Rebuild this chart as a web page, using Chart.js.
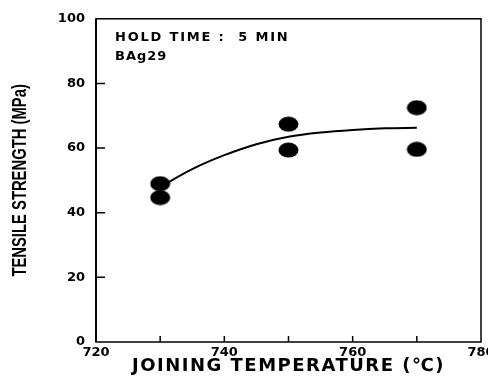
<!DOCTYPE html>
<html>
<head>
<meta charset="utf-8">
<script src="https://cdn.jsdelivr.net/npm/chart.js@4"></script>
<style>
  html, body { margin: 0; padding: 0; background: #fff; overflow: hidden; }
  #wrap { width: 500px; height: 385px; }
</style>
</head>
<body>
<div id="wrap"><canvas id="chart" width="500" height="385"></canvas></div>
<script>
// measured specimens
const tempC = [730, 730, 750, 750, 770, 770];
const strength = [49, 44.7, 67.4, 59.4, 72.5, 59.6];

// fitted trend line as drawn in the figure
const curveTemp = [730, 735, 740, 745, 750, 755, 760, 765, 770];
const curveStrength = [48, 53.5, 57.8, 61.2, 63.5, 64.8, 65.6, 66.1, 66.3];

const xTicks = [720, 740, 760, 780];
const xMarks = [730, 740, 750, 760, 770];
const yTicks = [0, 20, 40, 60, 80, 100];
const xTitle = 'JOINING TEMPERATURE (℃)';
const yTitle = 'TENSILE STRENGTH (MPa)';
const notes = ['HOLD TIME :  5 MIN', 'BAg29'];

const WIDE = '"DejaVu Sans", Verdana, sans-serif';
const PLAIN = '"Liberation Sans", Arial, sans-serif';

// flattened black dot like the scanned markers
const dot = document.createElement('canvas');
dot.width = 21; dot.height = 16;
(function () {
  const c = dot.getContext('2d');
  c.fillStyle = '#000';
  c.beginPath();
  c.ellipse(10.5, 8, 10, 7.5, 0, 0, Math.PI * 2);
  c.fill();
})();

const frame = {
  id: 'frame',
  afterDraw(chart) {
    const ctx = chart.ctx;
    const a = chart.chartArea;
    const xs = chart.scales.x, ys = chart.scales.y;
    ctx.save();
    ctx.strokeStyle = '#000';
    ctx.lineWidth = 1.5;
    ctx.strokeRect(a.left, a.top, a.right - a.left, a.bottom - a.top);
    ctx.lineWidth = 2;
    ctx.beginPath();
    ctx.moveTo(a.left, a.top); ctx.lineTo(a.left, a.bottom);
    ctx.stroke();
    // inward tick marks
    ctx.lineWidth = 1.5;
    ctx.beginPath();
    xMarks.forEach(function (v) {
      const px = xs.getPixelForValue(v);
      ctx.moveTo(px, a.bottom); ctx.lineTo(px, a.bottom - 6);
    });
    yTicks.slice(1, -1).forEach(function (v) {
      const py = ys.getPixelForValue(v);
      ctx.moveTo(a.left, py); ctx.lineTo(a.left + 9, py);
    });
    ctx.stroke();

    ctx.fillStyle = '#000';
    ctx.textBaseline = 'middle';

    // axis titles: wide-tracked x title, condensed y title
    ctx.save();
    ctx.textAlign = 'center';
    ctx.letterSpacing = '1.5px';
    ctx.font = 'bold 18px ' + WIDE;
    ctx.fillText(xTitle, (a.left + a.right) / 2, 366);
    ctx.restore();

    ctx.save();
    ctx.translate(20, (a.top + a.bottom) / 2);
    ctx.rotate(-Math.PI / 2);
    ctx.scale(0.74, 1);
    ctx.textAlign = 'center';
    ctx.font = 'bold 20px ' + PLAIN;
    ctx.fillText(yTitle, 0, 0);
    ctx.restore();

    // annotations
    ctx.letterSpacing = '1.8px';
    ctx.font = 'bold 13px ' + WIDE;
    ctx.fillText(notes[0], a.left + 19, a.top + 19);
    ctx.letterSpacing = '1px';
    ctx.fillText(notes[1], a.left + 19, a.top + 38);
    ctx.restore();
  }
};

new Chart(document.getElementById('chart'), {
  type: 'scatter',
  data: {
    datasets: [
      {
        label: 'Tensile strength',
        data: tempC.map(function (t, i) { return { x: t, y: strength[i] }; }),
        pointStyle: dot,
        backgroundColor: '#000',
        borderColor: '#000',
      },
      {
        label: 'Trend',
        type: 'line',
        data: curveTemp.map(function (t, i) { return { x: t, y: curveStrength[i] }; }),
        borderColor: '#000',
        borderWidth: 2,
        pointRadius: 0,
        cubicInterpolationMode: 'monotone',
        fill: false,
      },
    ],
  },
  options: {
    responsive: false,
    animation: false,
    layout: { padding: { top: 15, right: 19, bottom: 0, left: 0 } },
    plugins: { legend: { display: false }, tooltip: { enabled: false } },
    scales: {
      x: {
        type: 'linear',
        min: 720, max: 780,
        afterBuildTicks: function (s) { s.ticks = xTicks.map(function (v) { return { value: v }; }); },
        afterFit: function (s) { s.height = 43; },
        grid: { display: false, drawTicks: false },
        border: { display: false },
        ticks: { color: '#000', padding: 3, maxRotation: 0, autoSkip: false, font: { family: WIDE, size: 13, weight: 'bold' } },
        title: { display: false },
      },
      y: {
        min: 0, max: 100,
        afterBuildTicks: function (s) { s.ticks = yTicks.map(function (v) { return { value: v }; }); },
        afterFit: function (s) { s.width = 96; },
        grid: { display: false, drawTicks: false },
        border: { display: false },
        ticks: { color: '#000', padding: 11, font: { family: WIDE, size: 13, weight: 'bold' } },
        title: { display: false },
      },
    },
  },
  plugins: [frame],
});
</script>
</body>
</html>
